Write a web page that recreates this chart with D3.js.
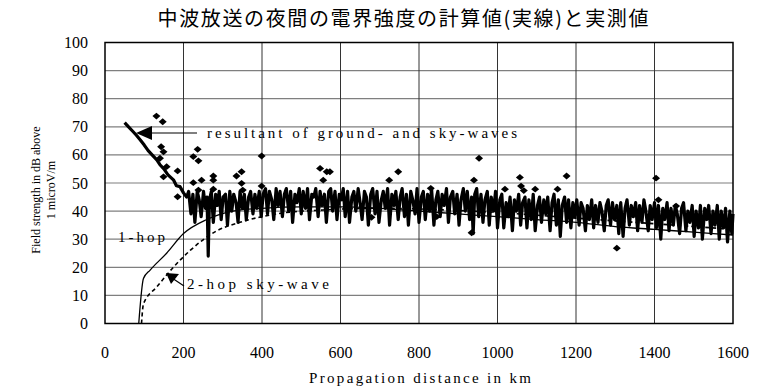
<!DOCTYPE html>
<html>
<head>
<meta charset="utf-8">
<script src="https://cdn.jsdelivr.net/npm/d3@7"></script>
<style>
  body { margin: 0; background: #fff; }
  svg { display: block; }
</style>
</head>
<body>
<div id="chart"></div>
<script>
// chart values
let titleText = "中波放送の夜間の電界強度の計算値(実線)と実測値";
let xTicks = [0, 200, 400, 600, 800, 1000, 1200, 1400, 1600];
let yTicks = [0, 10, 20, 30, 40, 50, 60, 70, 80, 90, 100];

// 1-hop sky-wave (thin solid)
let oneHop = [[86, 0], [98, 16], [115, 19], [157, 25], [200, 32], [259, 37], [326, 40], [400, 41],
    [500, 41.5], [600, 41.5], [700, 41], [800, 40], [900, 39], [1000, 38], [1100, 37], [1200, 36],
    [1300, 34.5], [1400, 33.5], [1500, 32.5], [1600, 31.5]];

// 2-hop sky-wave (dashed)
let twoHop = [[93, 0], [98, 7], [132, 13], [174, 20], [217, 26], [285, 33], [344, 36], [437, 39],
    [556, 40.4], [700, 41], [850, 40.5], [1000, 39.5], [1200, 37.5], [1400, 35.5], [1600, 33.5]];

// resultant of ground- and sky-waves (thick)
let resultant = [[50, 71.5], [60, 70], [70, 68.5], [80, 67], [90, 65.3], [100, 63.5], [110, 61.5],
    [120, 60], [132, 58.2], [140, 56.5], [150, 55], [160, 53], [166, 52.2], [175, 51], [182, 49],
    [191, 48.7], [200, 46.5],
    [208, 45], [213, 47], [219, 39], [224, 46], [229, 36], [235, 47], [240, 44], [245, 38], [251, 47],
    [256, 41], [260, 45], [263, 24], [266, 44], [271, 47], [276, 36], [282, 46], [286, 42], [291, 47],
    [296, 37], [301, 45], [307, 46], [312, 35], [318, 47], [323, 40], [328, 46], [334, 43], [339, 36],
    [344, 47], [350, 41], [355, 46], [360, 37], [366, 45], [371, 47], [377, 39], [382, 46], [387, 41],
    [393, 47], [398, 38], [403, 46],
    [409, 48], [414, 39], [419, 47], [425, 44], [430, 37], [436, 48], [441, 42], [446, 47], [452, 38],
    [457, 46], [462, 48], [468, 40], [473, 47], [478, 36], [484, 46], [489, 43], [495, 48], [500, 39],
    [505, 47], [511, 41], [516, 48], [521, 37], [527, 46], [532, 45], [537, 48], [543, 38], [548, 47],
    [553, 42], [559, 46], [564, 36], [570, 47], [575, 48], [580, 40], [586, 47], [591, 37], [597, 46],
    [602, 44], [607, 48], [612, 38], [618, 47], [623, 36], [629, 45], [634, 47], [639, 40], [645, 48],
    [650, 43], [655, 37], [661, 47], [666, 45], [671, 35], [677, 46], [682, 48], [688, 39], [693, 47],
    [698, 36], [704, 44], [709, 47], [714, 41], [720, 48], [725, 35], [731, 46], [736, 42], [741, 47],
    [747, 37], [752, 45], [757, 48], [763, 38], [768, 46], [773, 35], [779, 47], [784, 44], [790, 39],
    [795, 48], [800, 36],
    [806, 45], [811, 47], [816, 37], [822, 46], [827, 40], [832, 48], [838, 35], [843, 44], [848, 47],
    [854, 38], [859, 46], [864, 42], [870, 48], [875, 36], [880, 45], [886, 47], [891, 39], [897, 46],
    [902, 35], [907, 44], [913, 48], [918, 40], [923, 47], [929, 37], [934, 45], [938, 32], [942, 46],
    [947, 48], [952, 38], [958, 46], [963, 36], [968, 44], [974, 47], [979, 35], [984, 45], [990, 40],
    [995, 47], [1000, 34],
    [1006, 44], [1011, 46], [1016, 34], [1022, 43], [1027, 38], [1032, 45], [1038, 33], [1043, 44],
    [1048, 40], [1054, 46], [1059, 35], [1064, 43], [1070, 45], [1075, 34], [1080, 44], [1086, 37],
    [1091, 46], [1096, 33], [1102, 42], [1107, 45], [1112, 36], [1118, 44], [1123, 39], [1128, 45],
    [1134, 33], [1139, 43], [1144, 46], [1150, 35], [1155, 44], [1160, 31], [1165, 42], [1171, 45],
    [1176, 36], [1181, 44], [1187, 34], [1192, 43], [1197, 38], [1202, 44],
    [1208, 35], [1213, 43], [1218, 41], [1224, 33], [1229, 42], [1234, 37], [1240, 44], [1245, 34],
    [1250, 42], [1256, 36], [1261, 43], [1266, 40], [1272, 33], [1277, 42], [1282, 44], [1288, 35],
    [1293, 43], [1298, 37], [1304, 42], [1309, 32], [1314, 43], [1320, 31], [1325, 41], [1330, 44],
    [1336, 35], [1341, 42], [1346, 38], [1352, 43], [1357, 33], [1362, 42], [1368, 36], [1373, 44],
    [1378, 40], [1384, 33], [1389, 42], [1394, 37], [1400, 43],
    [1405, 34], [1410, 42], [1416, 30], [1421, 41], [1426, 37], [1432, 43], [1437, 33], [1442, 41],
    [1448, 35], [1453, 42], [1458, 39], [1464, 32], [1469, 41], [1474, 43], [1480, 33], [1485, 40],
    [1490, 36], [1496, 42], [1501, 31], [1506, 40], [1512, 34], [1517, 42], [1522, 30], [1528, 41],
    [1533, 37], [1538, 42], [1544, 32], [1549, 40], [1554, 35], [1560, 42], [1565, 30], [1570, 40],
    [1576, 34], [1581, 41], [1586, 29], [1592, 40], [1597, 32], [1600, 39]];

// measured values (diamonds)
let measured = [[131, 73.8], [147, 71.8], [143, 62.9], [149, 61.1], [140, 58.8], [157, 55.8],
    [185, 54.3], [149, 52.2], [185, 45.1], [236, 62], [225, 59.4], [238, 57.9], [276, 52.5],
    [276, 51], [246, 51], [225, 50.1], [238, 47.5], [276, 47.8], [348, 54], [335, 52.5],
    [348, 49.9], [351, 47.5], [399, 59.6], [399, 48.9], [548, 55.2], [565, 54], [573, 54],
    [556, 51], [679, 37.8], [747, 54], [724, 51], [830, 48.1], [845, 38], [953, 58.8], [940, 51],
    [934, 32.3], [1019, 47.8], [1057, 52], [1060, 48.9], [1067, 47.3], [1096, 47.8], [1176, 52.5],
    [1153, 47.8], [1404, 51.7], [1410, 44], [1455, 41.8], [1304, 26.8]];

let width = 762;
let height = 387;
let serif = "Liberation Serif";

let x = d3.scaleLinear().domain([0, 1600]).range([105, 733]);
let y = d3.scaleLinear().domain([0, 100]).range([323.5, 42.5]);

let svg = d3.select("#chart")
    .append("svg")
    .attr("width", width)
    .attr("height", height)
    .attr("font-family", serif);

// gridlines
svg.append("g")
    .selectAll("line")
    .data(yTicks.slice(1, -1))
    .enter().append("line")
    .attr("x1", x(0)).attr("x2", x(1600))
    .attr("y1", d => y(d)).attr("y2", d => y(d))
    .attr("stroke", "#7f7f7f")
    .attr("stroke-width", 1.2);

svg.append("g")
    .selectAll("line")
    .data(xTicks.slice(1, -1))
    .enter().append("line")
    .attr("x1", d => x(d)).attr("x2", d => x(d))
    .attr("y1", y(0)).attr("y2", y(100))
    .attr("stroke", "#333")
    .attr("stroke-width", 1);

// frame
svg.append("rect")
    .attr("x", x(0)).attr("y", y(100))
    .attr("width", x(1600) - x(0))
    .attr("height", y(0) - y(100))
    .attr("fill", "none")
    .attr("stroke", "#000")
    .attr("stroke-width", 1.5);

// tick labels
svg.append("g")
    .selectAll("text")
    .data(yTicks)
    .enter().append("text")
    .attr("x", 88)
    .attr("y", d => y(d) + 5.5)
    .attr("text-anchor", "end")
    .attr("font-family", serif)
    .attr("font-size", 16)
    .text(d => d);

svg.append("g")
    .selectAll("text")
    .data(xTicks)
    .enter().append("text")
    .attr("x", d => x(d))
    .attr("y", 358)
    .attr("text-anchor", "middle")
    .attr("font-family", serif)
    .attr("font-size", 16)
    .text(d => d);

// lines
let line = d3.line()
    .x(d => x(d[0]))
    .y(d => y(d[1]));

let smooth = d3.line()
    .x(d => x(d[0]))
    .y(d => y(d[1]))
    .curve(d3.curveMonotoneX);

svg.append("path")
    .attr("d", smooth(oneHop))
    .attr("fill", "none")
    .attr("stroke", "#000")
    .attr("stroke-width", 1.3);

svg.append("path")
    .attr("d", smooth(twoHop))
    .attr("fill", "none")
    .attr("stroke", "#000")
    .attr("stroke-width", 1.6)
    .attr("stroke-dasharray", "4,3");

svg.append("path")
    .attr("d", line(resultant))
    .attr("fill", "none")
    .attr("stroke", "#000")
    .attr("stroke-width", 3.2)
    .attr("stroke-linejoin", "round");

// measured diamonds
svg.append("g")
    .selectAll("path")
    .data(measured)
    .enter().append("path")
    .attr("transform", d => "translate(" + x(d[0]) + "," + y(d[1]) + ")")
    .attr("d", "M0,-3.4L4,0L0,3.4L-4,0Z")
    .attr("fill", "#000");

// annotations
function label(tx, ty, len, str) {
    svg.append("text")
        .attr("x", tx)
        .attr("y", ty)
        .attr("textLength", len)
        .attr("lengthAdjust", "spacing")
        .attr("font-family", serif)
        .attr("font-size", 15)
        .text(str);
}
label(207, 138, 310, "resultant of ground- and sky-waves");
label(118, 242, 47, "1-hop");
label(187, 289, 142, "2-hop sky-wave");

svg.append("line")
    .attr("x1", 197).attr("y1", 133)
    .attr("x2", 148).attr("y2", 133)
    .attr("stroke", "#000")
    .attr("stroke-width", 1.2);
svg.append("path")
    .attr("d", "M136,133L152,126L152,140Z")
    .attr("fill", "#000");

svg.append("line")
    .attr("x1", 184).attr("y1", 286)
    .attr("x2", 172).attr("y2", 278)
    .attr("stroke", "#000")
    .attr("stroke-width", 1.2);
svg.append("path")
    .attr("d", "M166,273L179,274L171,284Z")
    .attr("fill", "#000");

// axis titles
svg.append("text")
    .attr("x", 420)
    .attr("y", 383)
    .attr("text-anchor", "middle")
    .attr("textLength", 222)
    .attr("lengthAdjust", "spacing")
    .attr("font-family", serif)
    .attr("font-size", 15)
    .text("Propagation distance in km");

let yTitle = svg.append("g")
    .attr("transform", "translate(40,190) rotate(-90)");
yTitle.append("text")
    .attr("x", 0).attr("y", 0)
    .attr("text-anchor", "middle")
    .attr("font-family", serif)
    .attr("font-size", 12)
    .text("Field strength in dB above");
yTitle.append("text")
    .attr("x", 0).attr("y", 15)
    .attr("text-anchor", "middle")
    .attr("font-family", serif)
    .attr("font-size", 12)
    .text("1 microV/m");

// title
svg.append("text")
    .attr("x", 403)
    .attr("y", 26)
    .attr("text-anchor", "middle")
    .attr("textLength", 491)
    .attr("lengthAdjust", "spacing")
    .attr("font-family", "Noto Sans CJK JP")
    .attr("font-size", 20)
    .text(titleText);
</script>
</body>
</html>
